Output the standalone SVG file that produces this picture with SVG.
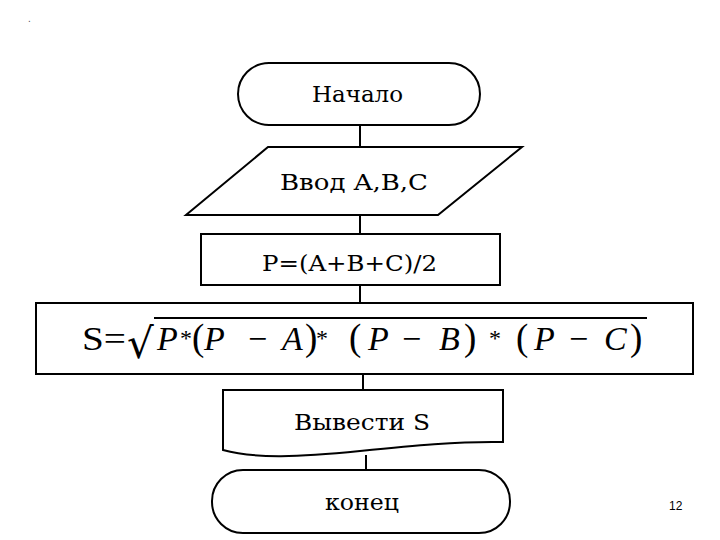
<svg xmlns="http://www.w3.org/2000/svg" width="720" height="540" viewBox="0 0 720 540">
<style>
.s{fill:#fff;stroke:#000;stroke-width:2}
.t{font-family:"DejaVu Serif","Liberation Serif",serif;font-size:23px;fill:#000}
.c line{stroke:#000;stroke-width:2}
.m{font-family:"Liberation Serif","Times New Roman",serif;font-style:italic;font-size:34px;fill:#000}
.p{font-style:normal;font-size:37px}
.a{font-style:normal;font-size:24px}
</style>
<rect width="720" height="540" fill="#fff"/>
<text x="28" y="22" font-family="Liberation Sans,sans-serif" font-size="10" fill="#555">.</text>
<g class="c">
<line x1="360" y1="125" x2="360" y2="147"/>
<line x1="360" y1="215" x2="360" y2="234"/>
<line x1="360" y1="285" x2="360" y2="303"/>
<line x1="363" y1="374" x2="363" y2="390"/>
<line x1="366" y1="455" x2="366" y2="470" stroke-width="1.5"/>
</g>
<g id="start"><rect class="s" x="238" y="63" width="242" height="62" rx="31"/><text class="t" x="312" y="102" textLength="91" lengthAdjust="spacingAndGlyphs">Начало</text></g>
<g id="input"><polygon class="s" points="268,147 522,147 438,215 186,215"/><text class="t" x="280" y="190" textLength="148" lengthAdjust="spacingAndGlyphs">Ввод A,B,C</text></g>
<g id="calcP"><rect class="s" x="201" y="234" width="299" height="51"/><text class="t" x="262" y="271" font-size="22" textLength="175" lengthAdjust="spacingAndGlyphs">P=(A+B+C)/2</text></g>
<g id="calcS"><rect class="s" x="36" y="303" width="657" height="71"/>
<text x="82" y="350" font-family="Liberation Serif,serif" font-size="34" textLength="44" lengthAdjust="spacingAndGlyphs">S=</text>
<text x="127" y="358" font-family="DejaVu Serif,serif" font-size="42">√</text>
<line x1="154" y1="318" x2="647" y2="318" stroke="#000" stroke-width="2"/>
<text class="m" y="350"><tspan x="157" y="350">P</tspan><tspan class="a" x="180" y="346">*</tspan><tspan class="p" x="192" y="350">(</tspan><tspan x="204" y="350">P</tspan><tspan x="246">−</tspan><tspan x="282">A</tspan><tspan class="p" x="305">)</tspan><tspan class="a" x="316" y="346">*</tspan><tspan class="p" x="349" y="350">(</tspan><tspan x="368">P</tspan><tspan x="400">−</tspan><tspan x="439">B</tspan><tspan class="p" x="464">)</tspan><tspan class="a" x="489" y="346">*</tspan><tspan class="p" x="516" y="350">(</tspan><tspan x="534">P</tspan><tspan x="567">−</tspan><tspan x="604">C</tspan><tspan class="p" x="630">)</tspan></text></g>
<g id="output"><path class="s" d="M223,390 H503 V442 C460,441 410,446 360,451 C300,457 255,459 223,450 Z"/><text class="t" x="294" y="430" textLength="136" lengthAdjust="spacingAndGlyphs">Вывести S</text></g>
<g id="end"><rect class="s" x="212" y="470" width="298" height="63" rx="31"/><text class="t" x="325" y="510" textLength="74" lengthAdjust="spacingAndGlyphs">конец</text></g>
<text x="669" y="510" font-family="Liberation Sans,sans-serif" font-size="12" fill="#000">12</text>
</svg>
